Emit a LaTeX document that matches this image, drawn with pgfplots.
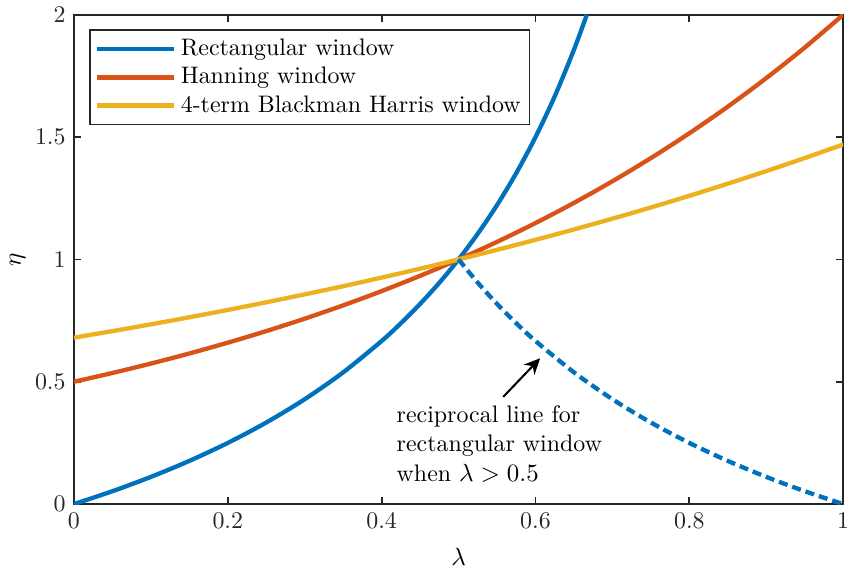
\documentclass[border=0pt]{standalone}
\usepackage{pgfplots}
\pgfplotsset{compat=1.18}
\usetikzlibrary{arrows.meta}
\definecolor{mblue}{rgb}{0,0.447,0.741}
\definecolor{morange}{rgb}{0.85,0.325,0.098}
\definecolor{myellow}{rgb}{0.929,0.694,0.125}
\definecolor{axgray}{rgb}{0.15,0.15,0.15}
\begin{document}
\fontsize{10.5}{12.9}\selectfont
\begin{tikzpicture}
\begin{axis}[
  name=ax,
  scale only axis,
  width=338pt, height=215pt,
  xmin=0, xmax=1, ymin=0, ymax=2,
  xtick={0,0.2,0.4,0.6,0.8,1},
  ytick={0,0.5,1,1.5,2},
  xticklabels={0,0.2,0.4,0.6,0.8,1},
  yticklabels={0,0.5,1,1.5,2},
  tick align=inside,
  major tick length=3pt,
  axis line style={axgray, line width=0.8pt},
  every tick/.style={axgray, line width=0.8pt},
  tick label style={axgray, font=\fontsize{10.5}{12.9}\selectfont},
  label style={font=\fontsize{10.5}{12.9}\selectfont},
  xlabel={$\lambda$}, ylabel={$\eta$},
  xlabel style={yshift=-1pt},
  ylabel style={yshift=-3pt},
  legend style={at={(0.02,0.97)}, anchor=north west, draw=axgray, line width=0.6pt, font=\fontsize{10.5}{12.9}\selectfont, row sep=-0.5pt, inner sep=2pt},
  legend cell align=left,
  legend image code/.code={\draw[#1, line width=1.9pt] (0pt,0pt) -- (34pt,0pt);},
  clip=true,
]
\addplot[mblue, line width=1.9pt, smooth] coordinates {
(0,0) (0.05,0.05263) (0.1,0.11111) (0.15,0.17647) (0.2,0.25) (0.25,0.33333)
(0.3,0.42857) (0.35,0.53846) (0.4,0.66667) (0.425,0.73913) (0.45,0.81818) (0.475,0.90476) (0.5,1)
(0.525,1.10526) (0.55,1.22222) (0.575,1.35294) (0.6,1.5) (0.625,1.66667) (0.65,1.85714) (0.66667,2.0)
};
\addlegendentry{Rectangular window}
\addplot[morange, line width=1.9pt, smooth] coordinates {
(0,0.5) (0.05,0.535887) (0.1,0.574349) (0.15,0.615572) (0.2,0.659754) (0.25,0.707107)
(0.3,0.757858) (0.35,0.812252) (0.4,0.870551) (0.45,0.933033) (0.5,1)
(0.55,1.071773) (0.6,1.148698) (0.65,1.231144) (0.7,1.319508) (0.75,1.414214)
(0.8,1.515717) (0.85,1.624505) (0.9,1.741101) (0.95,1.866066) (1,2)
};
\addlegendentry{Hanning window}
\addplot[myellow, line width=1.9pt, smooth] coordinates {
(0,0.680272) (0.05,0.706992) (0.1,0.734761) (0.15,0.763621) (0.2,0.793614) (0.25,0.824782)
(0.3,0.857180) (0.35,0.890532) (0.4,0.925841) (0.45,0.962207) (0.5,1)
(0.55,1.039278) (0.6,1.080099) (0.65,1.122524) (0.7,1.166614) (0.75,1.212437)
(0.8,1.260058) (0.85,1.309550) (0.9,1.360988) (0.95,1.414443) (1,1.47)
};
\addlegendentry{4-term Blackman Harris window}
\addplot[mblue, line width=1.9pt, smooth, dash pattern=on 4pt off 2.2pt, forget plot] coordinates {
(0.5,1) (0.525,0.90476) (0.55,0.81818) (0.575,0.73913) (0.6,0.66667) (0.65,0.53846) (0.7,0.42857)
(0.75,0.33333) (0.8,0.25) (0.85,0.17647) (0.9,0.11111) (0.95,0.05263) (1,0)
};
\draw[-{Stealth[length=7pt,width=6.5pt]}, line width=0.9pt, black] (axis cs:0.558,0.438) -- (axis cs:0.606,0.596);
\node[anchor=north west, align=left, inner sep=0pt, font=\fontsize{10.5}{12.9}\selectfont] at (axis cs:0.419,0.405)
  {reciprocal line for\\rectangular window\\when $\lambda>0.5$};
\end{axis}
\pgfresetboundingbox
\path[use as bounding box] ([shift={(-32.5pt,-28.8pt)}]ax.south west) rectangle ([shift={(3pt,6.5pt)}]ax.north east);
\end{tikzpicture}
\end{document}
